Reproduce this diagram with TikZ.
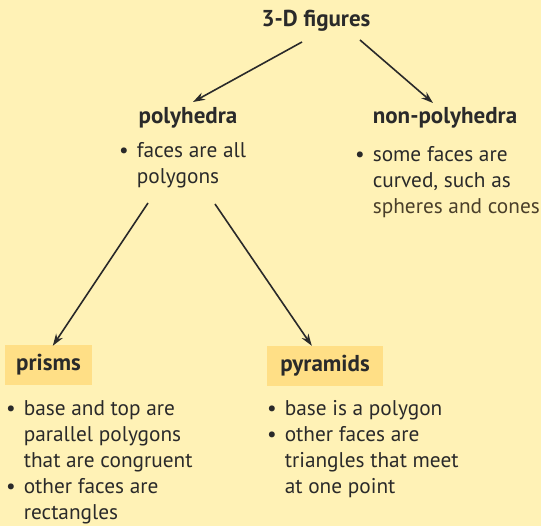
\documentclass[tikz,border=0pt]{standalone}
\usepackage{fontspec}
\setmainfont{PT Sans}
\usepackage{xcolor}
\usetikzlibrary{arrows.meta}
\definecolor{PageCream}{HTML}{FFF2B6}
\definecolor{TagGold}{HTML}{FFDF86}
\definecolor{InkGray}{HTML}{2A2A2A}
\definecolor{NoteBrown}{HTML}{4A3F2A}

\begin{document}
\begin{tikzpicture}[
      x=1pt,y=-1pt,
      headnode/.style={
        inner sep=0pt,
        anchor=base,
        text=InkGray,
        font=\fontsize{23}{26}\selectfont\bfseries
      },
      tagnode/.style={
        headnode,
        anchor=center,
        fill=TagGold,
        minimum height=40pt
      },
      listnode/.style={
        inner sep=0pt,
        anchor=base west,
        text=InkGray,
        font=\fontsize{21.3}{25.9}\selectfont
      },
      arrow/.style={-{Stealth[length=12pt,width=8pt]},line width=1.6pt,color=InkGray}
    ]
      \fill[PageCream] (0,0) rectangle (541,526);
      \useasboundingbox (0,0) rectangle (541,526);
      \node[headnode] (fig) at (316,27) {3-D figures};
      \node[headnode] (poly) at (188,124) {polyhedra};
      \node[headnode] (nonpoly) at (445,124) {non-polyhedra};
      \node[listnode] (polytxt) at (119,158) {\begin{tabular}[t]{@{}l@{\hspace{8pt}}l@{}}
        \textbullet & faces are all\\ & polygons\end{tabular}};
      \node[listnode] (nonpolytxt) at (355,162) {\begin{tabular}[t]{@{}l@{\hspace{8pt}}l@{}}
        \textbullet & some faces are\\ & curved, such as\\ & \color{NoteBrown}spheres and cones\end{tabular}};
      \node[tagnode,minimum width=87pt] (prisms) at (48.5,365) {prisms};
      \node[tagnode,minimum width=116pt] (pyramids) at (325,366) {pyramids};
      \node[listnode] (prismtxt) at (6,416) {\begin{tabular}[t]{@{}l@{\hspace{8pt}}l@{}}
        \textbullet & base and top are\\ & parallel polygons\\ & that are congruent\\
        \textbullet & other faces are\\ & rectangles\end{tabular}};
      \node[listnode] (pyrtxt) at (267,416) {\begin{tabular}[t]{@{}l@{\hspace{8pt}}l@{}}
        \textbullet & base is a polygon\\
        \textbullet & other faces are\\ & triangles that meet\\ & at one point\end{tabular}};
      \draw[arrow] ([shift={(-14,15)}]fig.base) -- ([shift={(5,-22)}]poly.base);
      \draw[arrow] ([shift={(44,13)}]fig.base) -- ([shift={(-12,-21)}]nonpoly.base);
      \draw[arrow] ([shift={(29,45)}]polytxt.base west) -- ([shift={(48,1)}]prisms.north west);
      \draw[arrow] ([shift={(96,46)}]polytxt.base west) -- ([shift={(45,0)}]pyramids.north west);
    \end{tikzpicture}
\end{document}
